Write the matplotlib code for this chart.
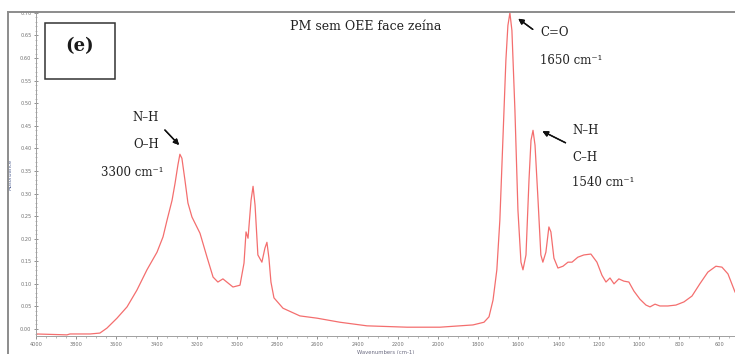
import matplotlib
matplotlib.use("Agg")
import matplotlib.pyplot as plt
from matplotlib.lines import Line2D
from matplotlib.patches import Rectangle
from matplotlib.ticker import MultipleLocator, FormatStrFormatter

# FTIR spectrum, PM without OEE, zein side
wavenumber = [4000, 3846, 3831, 3731, 3682, 3647, 3597, 3547, 3498, 3448,
              3398, 3368, 3348, 3323, 3308, 3294, 3284, 3274, 3259, 3244,
              3224, 3184, 3149, 3119, 3095, 3070, 3045, 3020, 2985, 2965,
              2955, 2945, 2930, 2920, 2910, 2896, 2876, 2861, 2851, 2841,
              2831, 2816, 2771, 2687, 2602, 2488, 2353, 2154, 1990, 1826,
              1771, 1746, 1726, 1707, 1692, 1677, 1662, 1652, 1642, 1632,
              1617, 1602, 1587, 1577, 1562, 1547, 1537, 1527, 1517, 1502,
              1488, 1478, 1463, 1448, 1438, 1423, 1403, 1378, 1353, 1333,
              1304, 1274, 1239, 1209, 1184, 1164, 1144, 1124, 1100, 1075,
              1050, 1025, 995, 965, 945, 920, 896, 856, 816, 776,
              736, 697, 657, 617, 587, 557, 522]
absorbance = [-0.011, -0.013, -0.011, -0.011, -0.009, 0.002, 0.024, 0.049, 0.086, 0.131,
              0.170, 0.204, 0.241, 0.285, 0.323, 0.363, 0.387, 0.378, 0.330, 0.279,
              0.248, 0.212, 0.159, 0.115, 0.104, 0.111, 0.102, 0.093, 0.097, 0.146,
              0.215, 0.201, 0.285, 0.316, 0.274, 0.164, 0.148, 0.179, 0.192, 0.157,
              0.104, 0.069, 0.046, 0.029, 0.024, 0.015, 0.007, 0.004, 0.004, 0.009,
              0.015, 0.027, 0.064, 0.131, 0.241, 0.418, 0.595, 0.672, 0.700, 0.661,
              0.484, 0.263, 0.148, 0.131, 0.164, 0.330, 0.418, 0.440, 0.407, 0.285,
              0.164, 0.148, 0.170, 0.226, 0.215, 0.157, 0.135, 0.139, 0.148, 0.148,
              0.159, 0.164, 0.166, 0.148, 0.119, 0.104, 0.113, 0.100, 0.111, 0.106,
              0.104, 0.084, 0.066, 0.053, 0.049, 0.055, 0.051, 0.051, 0.053, 0.060,
              0.073, 0.100, 0.126, 0.139, 0.137, 0.122, 0.082]

title = "PM sem OEE face zeína"
panel_label = "(e)"
serif = ["DejaVu Serif"]

fig = plt.figure(figsize=(7.35, 3.54), dpi=100)
W, H = 735, 354


def fx(px):
    return px / W


def fy(py):
    return 1 - py / H


# window frame (top and left edges)
frame_col = "#8c8c8c"
fig.add_artist(Line2D([fx(8), 1], [fy(12), fy(12)], color=frame_col, lw=1.4))
fig.add_artist(Line2D([fx(8), fx(8)], [fy(12), 0], color=frame_col, lw=1.4))

ax = fig.add_axes([fx(36), fy(336), 1 - fx(36), fy(12) - fy(336)])
ax.plot(wavenumber, absorbance, color="#f25555", lw=0.9, alpha=0.85)
ax.set_xlim(4000, 522)
ax.set_ylim(-0.0155, 0.702)

ax.spines["top"].set_visible(False)
ax.spines["right"].set_visible(False)
for s in ("left", "bottom"):
    ax.spines[s].set_color("#a0a0a0")
    ax.spines[s].set_linewidth(0.7)

ax.xaxis.set_major_locator(MultipleLocator(200))
ax.xaxis.set_minor_locator(MultipleLocator(50))
ax.yaxis.set_major_locator(MultipleLocator(0.05))
ax.yaxis.set_minor_locator(MultipleLocator(0.01))
ax.yaxis.set_major_formatter(FormatStrFormatter("%.2f"))
ax.tick_params(which="major", length=2.5, width=0.6, color="#808080",
               labelsize=3.6, labelcolor="#707070", pad=2)
ax.tick_params(which="minor", length=1.3, width=0.5, color="#a0a0a0")
ax.tick_params(axis="y", which="both", direction="inout")
ax.set_xlabel("Wavenumbers (cm-1)", fontsize=3.8, color="#6a6a80", labelpad=2)
ax.set_ylabel("Absorbance", fontsize=3.8, color="#5a6a9a")
ax.yaxis.set_label_coords(-23 / 699, 0.5)

# panel tag box
fig.add_artist(Rectangle((fx(45), fy(79)), fx(115) - fx(45), fy(23) - fy(79),
                         fill=False, edgecolor="#333333", lw=1.1))
fig.text(fx(80), fy(46), panel_label, fontsize=13, fontweight="bold",
         family=serif, ha="center", va="center", color="#1a1a1a")

fig.text(fx(366), fy(26), title, fontsize=9, family=serif,
         ha="center", va="center", color="#222222")

txt = dict(fontsize=8.5, family=serif, color="#222222", va="center")
arrow = dict(arrowstyle="-|>", color="#111111", lw=1.0, mutation_scale=8)

# O-H / N-H band
fig.text(fx(146), fy(118), "N–H", ha="center", **txt)
fig.text(fx(146), fy(145), "O–H", ha="center", **txt)
fig.text(fx(132), fy(172), "3300 cm⁻¹", ha="center", **txt)
fig.add_artist(plt.annotate("", xy=(fx(181), fy(147)), xytext=(fx(163), fy(128)),
                            xycoords="figure fraction", arrowprops=arrow))

# C=O band
fig.text(fx(540), fy(33), "C=O", ha="left", **txt)
fig.text(fx(540), fy(60), "1650 cm⁻¹", ha="left", **txt)
fig.add_artist(plt.annotate("", xy=(fx(516), fy(17)), xytext=(fx(535), fy(31)),
                            xycoords="figure fraction", arrowprops=arrow))

# N-H / C-H band
fig.text(fx(572), fy(131), "N–H", ha="left", **txt)
fig.text(fx(572), fy(157), "C–H", ha="left", **txt)
fig.text(fx(572), fy(183), "1540 cm⁻¹", ha="left", **txt)
fig.add_artist(plt.annotate("", xy=(fx(540), fy(130)), xytext=(fx(568), fy(144)),
                            xycoords="figure fraction", arrowprops=arrow))

fig.savefig("out.png", dpi=100)
